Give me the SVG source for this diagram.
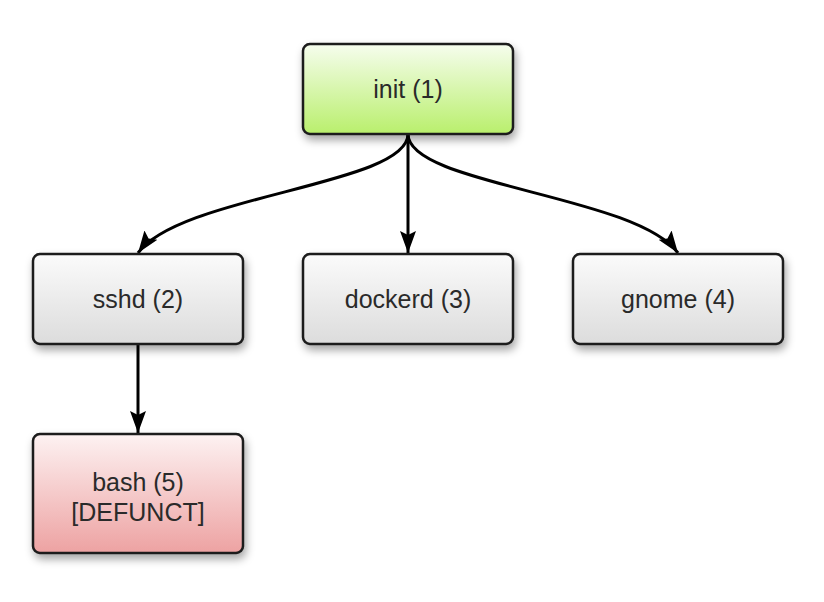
<svg xmlns="http://www.w3.org/2000/svg" width="824" height="602" viewBox="0 0 824 602">
  <defs>
    <linearGradient id="gGreen" x1="0" y1="0" x2="0" y2="1">
      <stop offset="0" stop-color="#f6fdee"/>
      <stop offset="1" stop-color="#b9ef6c"/>
    </linearGradient>
    <linearGradient id="gGray" x1="0" y1="0" x2="0" y2="1">
      <stop offset="0" stop-color="#fbfbfb"/>
      <stop offset="1" stop-color="#dcdcdc"/>
    </linearGradient>
    <linearGradient id="gRed" x1="0" y1="0" x2="0" y2="1">
      <stop offset="0" stop-color="#fdf2f2"/>
      <stop offset="1" stop-color="#eda2a2"/>
    </linearGradient>
    <filter id="shadow" x="-10%" y="-10%" width="125%" height="135%">
      <feDropShadow dx="2" dy="5" stdDeviation="4" flood-color="#000" flood-opacity="0.35"/>
    </filter>
    <marker id="arrow" markerUnits="userSpaceOnUse" markerWidth="24" markerHeight="18" refX="22" refY="9" orient="auto">
      <path d="M0,1 L22,9 L0,17 L4,9 Z" fill="#000"/>
    </marker>
    <style>
      .box { stroke: #1a1a1a; stroke-width: 2.5; filter: url(#shadow); }
      .lbl { font-family: "Liberation Sans", Arial, sans-serif; font-size: 25px; fill: #2a2a2a; text-anchor: middle; }
      .edge { fill: none; stroke: #000; stroke-width: 3; marker-end: url(#arrow); }
    </style>
  </defs>

  <g id="connectors">
    <path class="edge" d="M408,134 C408,185 180,195 138,253"/>
    <path class="edge" d="M408,134 L408,253"/>
    <path class="edge" d="M408,134 C408,185 636,195 678,253"/>
    <path class="edge" d="M138,344 L138,433"/>
  </g>

  <g id="node-init">
    <rect class="box" x="303" y="44" width="210" height="90" rx="7" fill="url(#gGreen)"/>
    <text class="lbl" x="408" y="98">init (1)</text>
  </g>
  <g id="node-sshd">
    <rect class="box" x="33" y="254" width="210" height="90" rx="7" fill="url(#gGray)"/>
    <text class="lbl" x="138" y="308">sshd (2)</text>
  </g>
  <g id="node-dockerd">
    <rect class="box" x="303" y="254" width="210" height="90" rx="7" fill="url(#gGray)"/>
    <text class="lbl" x="408" y="308">dockerd (3)</text>
  </g>
  <g id="node-gnome">
    <rect class="box" x="573" y="254" width="210" height="90" rx="7" fill="url(#gGray)"/>
    <text class="lbl" x="678" y="308">gnome (4)</text>
  </g>
  <g id="node-bash">
    <rect class="box" x="33" y="434" width="210" height="119" rx="7" fill="url(#gRed)"/>
    <text class="lbl" x="138" y="491">bash (5)</text>
    <text class="lbl" x="138" y="521">[DEFUNCT]</text>
  </g>
</svg>
